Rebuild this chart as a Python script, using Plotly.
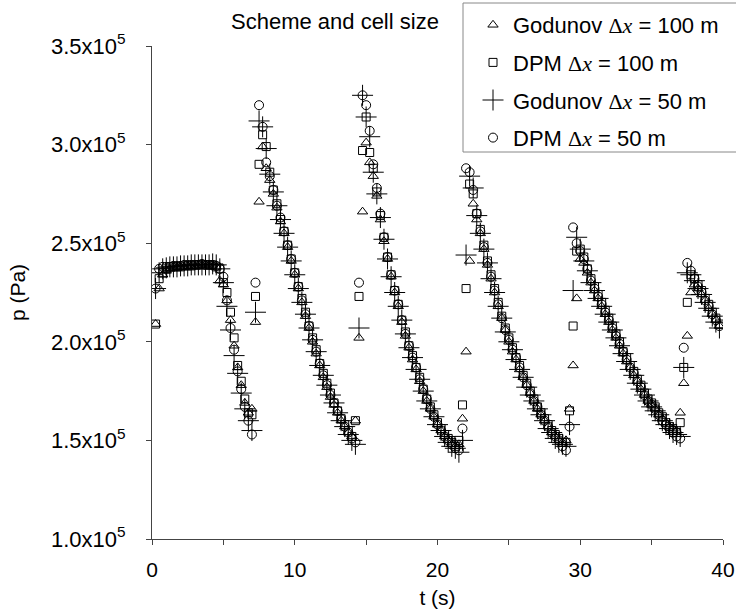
import plotly.graph_objects as go

# time samples (s)
t_s = [0.25, 0.5, 0.75, 1.0, 1.25, 1.5, 1.75, 2.0, 2.25, 2.5, 2.75, 3.0, 3.25, 3.5, 3.75, 4.0,
       4.25, 4.5, 4.75, 5.0, 5.25, 5.5, 5.75, 6.0, 6.25, 6.5, 6.75, 7.0, 7.25, 7.5, 7.75, 8.0,
       8.25, 8.5, 8.75, 9.0, 9.25, 9.5, 9.75, 10.0, 10.25, 10.5, 10.75, 11.0, 11.25, 11.5, 11.75, 12.0,
       12.25, 12.5, 12.75, 13.0, 13.25, 13.5, 13.75, 14.0, 14.25, 14.5, 14.75, 15.0, 15.25, 15.5, 15.75, 16.0,
       16.25, 16.5, 16.75, 17.0, 17.25, 17.5, 17.75, 18.0, 18.25, 18.5, 18.75, 19.0, 19.25, 19.5, 19.75, 20.0,
       20.25, 20.5, 20.75, 21.0, 21.25, 21.5, 21.75, 22.0, 22.25, 22.5, 22.75, 23.0, 23.25, 23.5, 23.75, 24.0,
       24.25, 24.5, 24.75, 25.0, 25.25, 25.5, 25.75, 26.0, 26.25, 26.5, 26.75, 27.0, 27.25, 27.5, 27.75, 28.0,
       28.25, 28.5, 28.75, 29.0, 29.25, 29.5, 29.75, 30.0, 30.25, 30.5, 30.75, 31.0, 31.25, 31.5, 31.75, 32.0,
       32.25, 32.5, 32.75, 33.0, 33.25, 33.5, 33.75, 34.0, 34.25, 34.5, 34.75, 35.0, 35.25, 35.5, 35.75, 36.0,
       36.25, 36.5, 36.75, 37.0, 37.25, 37.5, 37.75, 38.0, 38.25, 38.5, 38.75, 39.0, 39.25, 39.5, 39.75]

# pressures in units of 1e5 Pa
p_g100 = [2.09, 2.27, 2.34, 2.36, 2.37, 2.38, 2.38, 2.38, 2.38, 2.385, 2.385, 2.385, 2.39, 2.39, 2.39, 2.39, 2.39, 2.38, 2.31,
          2.29, 2.21, 2.11, 1.98, 1.87, 1.78, 1.69, 1.64, 1.66,
          2.10, 2.71, 2.99,
          2.88, 2.82, 2.75, 2.68, 2.61, 2.55, 2.48, 2.41, 2.34, 2.27, 2.20, 2.13, 2.07, 2.00, 1.94, 1.88, 1.82, 1.77, 1.72, 1.68, 1.64, 1.60, 1.57, 1.54, 1.52,
          1.60, 2.02, 2.66, 3.01, 2.91,
          2.84, 2.74, 2.62, 2.51, 2.42, 2.33, 2.25, 2.18, 2.10, 2.03, 1.97, 1.91, 1.86, 1.80, 1.75, 1.70, 1.66, 1.62, 1.58, 1.55, 1.52, 1.50, 1.48, 1.47, 1.48,
          1.61, 1.95, 2.41,
          2.70, 2.62, 2.55, 2.47, 2.39, 2.32, 2.25, 2.18, 2.12, 2.06, 2.00, 1.95, 1.91, 1.86, 1.82, 1.78, 1.74, 1.70, 1.66, 1.63, 1.60, 1.57, 1.54, 1.52, 1.50, 1.49, 1.50,
          1.66, 1.88, 2.22, 2.42,
          2.40, 2.35, 2.30, 2.26, 2.22, 2.18, 2.14, 2.10, 2.06, 2.02, 1.98, 1.94, 1.90, 1.87, 1.83, 1.80, 1.76, 1.73, 1.70, 1.68, 1.66, 1.63, 1.61, 1.59, 1.57, 1.56, 1.55,
          1.64, 1.79, 2.03, 2.25,
          2.29, 2.27, 2.24, 2.21, 2.17, 2.14, 2.11, 2.08]

p_dpm100 = [2.09, 2.32, 2.35, 2.37, 2.38, 2.38, 2.38, 2.38, 2.385, 2.385, 2.385, 2.39, 2.39, 2.39, 2.39, 2.39, 2.39, 2.38, 2.37,
            2.30, 2.25, 2.15, 2.02, 1.88, 1.80, 1.71, 1.64, 1.63,
            2.23, 2.90, 3.05,
            2.99, 2.86, 2.77, 2.70, 2.62, 2.56, 2.49, 2.42, 2.35, 2.28, 2.22, 2.15, 2.08, 2.02, 1.96, 1.89, 1.84, 1.79, 1.74, 1.69, 1.65, 1.61, 1.58, 1.55, 1.52,
            1.60, 2.23, 2.97, 3.14, 2.96,
            2.88, 2.76, 2.64, 2.53, 2.43, 2.34, 2.26, 2.19, 2.11, 2.05, 1.98, 1.93, 1.87, 1.82, 1.76, 1.71, 1.67, 1.63, 1.59, 1.56, 1.53, 1.51, 1.49, 1.47, 1.50,
            1.68, 2.27, 2.80,
            2.75, 2.65, 2.57, 2.49, 2.41, 2.34, 2.27, 2.20, 2.13, 2.07, 2.02, 1.97, 1.92, 1.88, 1.83, 1.79, 1.75, 1.71, 1.67, 1.64, 1.61, 1.58, 1.55, 1.53, 1.51, 1.49, 1.49,
            1.65, 2.08, 2.46, 2.47,
            2.43, 2.37, 2.32, 2.28, 2.24, 2.20, 2.16, 2.12, 2.08, 2.04, 2.00, 1.95, 1.92, 1.88, 1.85, 1.81, 1.78, 1.74, 1.71, 1.69, 1.67, 1.64, 1.62, 1.59, 1.57, 1.55, 1.54,
            1.59, 1.87, 2.20, 2.34,
            2.32, 2.29, 2.26, 2.22, 2.19, 2.15, 2.12, 2.09]

p_g50 = [2.27, 2.35, 2.37, 2.375, 2.38, 2.38, 2.38, 2.385, 2.385, 2.385, 2.39, 2.39, 2.39, 2.39, 2.39, 2.39, 2.395, 2.39, 2.37,
         2.30, 2.18, 2.06, 1.93, 1.84, 1.74, 1.66, 1.60, 1.55,
         2.15, 3.12, 3.09,
         2.98, 2.85, 2.76, 2.69, 2.62, 2.55, 2.48, 2.41, 2.34, 2.27, 2.20, 2.14, 2.07, 2.01, 1.95, 1.88, 1.83, 1.78, 1.73, 1.69, 1.64, 1.60, 1.57, 1.53, 1.50,
         1.48, 2.07, 3.25, 3.14, 3.04,
         2.86, 2.75, 2.63, 2.52, 2.42, 2.33, 2.25, 2.18, 2.11, 2.04, 1.97, 1.92, 1.86, 1.81, 1.75, 1.70, 1.66, 1.62, 1.58, 1.55, 1.52, 1.49, 1.47, 1.46, 1.44,
         1.50, 2.44, 2.84,
         2.78, 2.64, 2.55, 2.47, 2.40, 2.32, 2.25, 2.18, 2.12, 2.05, 2.00, 1.96, 1.91, 1.86, 1.82, 1.77, 1.73, 1.70, 1.66, 1.63, 1.60, 1.56, 1.54, 1.51, 1.49, 1.48, 1.47,
         1.58, 2.26, 2.53, 2.47,
         2.41, 2.36, 2.30, 2.26, 2.22, 2.18, 2.14, 2.10, 2.06, 2.02, 1.98, 1.94, 1.90, 1.86, 1.83, 1.79, 1.76, 1.73, 1.70, 1.67, 1.65, 1.63, 1.60, 1.58, 1.56, 1.54, 1.53,
         1.52, 1.87, 2.35, 2.34,
         2.31, 2.27, 2.24, 2.20, 2.17, 2.13, 2.10, 2.07]

p_dpm50 = [2.27, 2.37, 2.38, 2.38, 2.38, 2.385, 2.385, 2.385, 2.39, 2.39, 2.39, 2.39, 2.39, 2.395, 2.39, 2.39, 2.39, 2.385, 2.37,
           2.33, 2.21, 2.07, 1.96, 1.85, 1.76, 1.67, 1.60, 1.53,
           2.30, 3.20, 3.09,
           2.91, 2.84, 2.77, 2.69, 2.63, 2.56, 2.49, 2.42, 2.35, 2.28, 2.21, 2.14, 2.08, 2.01, 1.95, 1.89, 1.83, 1.78, 1.73, 1.69, 1.65, 1.61, 1.57, 1.54, 1.51,
           1.49, 2.30, 3.25, 3.20, 3.07,
           2.90, 2.78, 2.65, 2.53, 2.43, 2.34, 2.26, 2.19, 2.11, 2.04, 1.98, 1.92, 1.87, 1.81, 1.76, 1.71, 1.66, 1.62, 1.58, 1.55, 1.52, 1.50, 1.48, 1.46, 1.45,
           1.56, 2.88, 2.86,
           2.77, 2.65, 2.56, 2.48, 2.40, 2.33, 2.26, 2.19, 2.12, 2.06, 2.01, 1.96, 1.92, 1.87, 1.82, 1.78, 1.74, 1.70, 1.67, 1.63, 1.60, 1.57, 1.54, 1.52, 1.50, 1.47, 1.45,
           1.57, 2.58, 2.50, 2.46,
           2.42, 2.37, 2.31, 2.27, 2.23, 2.19, 2.15, 2.11, 2.07, 2.03, 1.99, 1.95, 1.91, 1.87, 1.84, 1.80, 1.77, 1.73, 1.70, 1.68, 1.66, 1.63, 1.60, 1.58, 1.56, 1.54, 1.52,
           1.51, 1.97, 2.40, 2.36,
           2.32, 2.28, 2.25, 2.21, 2.18, 2.14, 2.11, 2.08]

SER = "<span style=\"font-family:'Liberation Serif'\">Δ<i>x</i></span>"
series_names = ["Godunov " + SER + " = 100 m", "DPM " + SER + " = 100 m",
                "Godunov " + SER + " = 50 m", "DPM " + SER + " = 50 m"]
x_tickvals = [0, 10, 20, 30, 40]
y_tickvals = [1.0e5, 1.5e5, 2.0e5, 2.5e5, 3.0e5, 3.5e5]
y_ticktext = ["1.0x10<sup>5</sup>", "1.5x10<sup>5</sup>", "2.0x10<sup>5</sup>",
              "2.5x10<sup>5</sup>", "3.0x10<sup>5</sup>", "3.5x10<sup>5</sup>"]

series = [p_g100, p_dpm100, p_g50, p_dpm50]
symbols = ["triangle-up-open", "square-open", "cross-thin-open", "circle-open"]
sizes = [9, 8, 15, 9]

fig = go.Figure()
for i, (vals, sym, sz, nm) in enumerate(zip(series, symbols, sizes, series_names)):
    fig.add_trace(go.Scatter(
        x=t_s, y=[v * 1e5 for v in vals], mode="markers", name=nm,
        legendgroup="g%d" % i,
        marker=dict(symbol=sym, size=sz, color="black",
                    line=dict(color="black", width=1)),
    ))

W, H = 736, 612
L, R, T, B = 152, 13, 46, 73
pw, ph = W - L - R, H - T - B


def px(x):
    return (x - L) / pw


def py(y):
    return (H - B - y) / ph


FONT = "Liberation Sans, Arial, sans-serif"

fig.update_layout(
    width=W, height=H,
    margin=dict(l=L, r=R, t=T, b=B, autoexpand=False),
    paper_bgcolor="white", plot_bgcolor="white",
    font=dict(family=FONT, size=21, color="black"),
    showlegend=True,
    legend=dict(x=px(473), y=py(4), xanchor="left", yanchor="top",
                bgcolor="rgba(0,0,0,0)", borderwidth=0,
                font=dict(family=FONT, size=22, color="black"),
                itemsizing="trace", tracegroupgap=6),
    xaxis=dict(range=[0, 40], tickvals=x_tickvals, ticks="outside", ticklen=5,
               tickwidth=1, tickcolor="#444", showline=True, linecolor="#444",
               linewidth=1, showgrid=False, zeroline=False,
               ticklabelstandoff=7, tickfont=dict(size=21),
               minor=dict(dtick=5, ticks="outside", ticklen=5, tickcolor="#444"),
               title=dict(text="t (s)", font=dict(size=21), standoff=10)),
    yaxis=dict(range=[1.0e5, 3.5e5], tickvals=y_tickvals, ticktext=y_ticktext,
               ticks="outside", ticklen=5, tickwidth=1, tickcolor="#444",
               showline=True, linecolor="#444", linewidth=1, showgrid=False,
               zeroline=False, ticklabelstandoff=16, tickfont=dict(size=22),
               title=dict(text="p (Pa)", font=dict(size=21), standoff=19)),
    shapes=[dict(type="rect", xref="paper", yref="paper",
                 x0=px(463), x1=px(760), y0=py(152), y1=py(3),
                 line=dict(color="#888", width=1), fillcolor="white", layer="below")],
    annotations=[dict(text="Scheme and cell size", xref="paper", yref="paper",
                      x=px(229), y=py(22), xanchor="left", yanchor="middle",
                      showarrow=False, font=dict(family=FONT, size=22, color="black"))],
)

fig.write_html("out.html", config={"displayModeBar": False},
               post_script="document.body.style.margin='0';document.body.style.padding='0';")
